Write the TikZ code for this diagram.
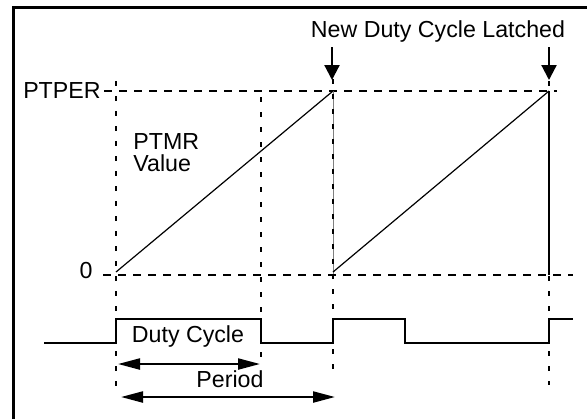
\documentclass[tikz,border=0pt]{standalone}
\usepackage{fontspec}
\setmainfont{Liberation Sans}
\usetikzlibrary{arrows,arrows.meta,positioning}
\tikzset{
  grid/.style={line width=1.2pt,dash pattern=on 4pt off 3.5pt},
  guide/.style={line width=1.2pt,dash pattern=on 2.5pt off 5pt},
  wave/.style={line width=1.2pt},
  ramp/.style={line width=0.6pt},
  latch/.style={line width=1.1pt,-{Triangle[length=7.5pt,width=7.5pt]}},
  span/.style={line width=1.1pt,{Triangle[length=11pt,width=5.5pt]}-{Triangle[length=11pt,width=5.5pt]}},
  lbl/.style={inner sep=0pt,font=\fontsize{11.6}{11}\selectfont}
}
\begin{document}
\begin{tikzpicture}[x=0.5pt,y=-0.5pt]
\useasboundingbox (0,0) rectangle (587,419);
% frame
\draw[line width=1.5pt] (13,419) -- (13,7) -- (587,7);
% levels
\node[lbl,anchor=east] (per) at (101,91) {PTPER};
\node[lbl] (zero) at (86,271) {0};
\coordinate (p0) at (104,91); \coordinate (p1) at (557,91);
\coordinate (z0) at (103,275); \coordinate (z1) at (573,275);
\draw[grid] (p0) -- (p1);
\draw[grid] (z0) -- (z1);
% timer count
\draw[gray,line width=0.5pt] (333,91) -- (333,275);
\draw[line width=1.2pt] (549,91) -- (549,275);
\draw[ramp] (116,272) -- (333,91) (333,272) -- (549,91);
\foreach \x/\a/\b in {116/81/387,261/97/358,333/79/370,549/81/385}
  \draw[guide] (\x,\a) -- (\x,\b);
\node[lbl,align=left,anchor=north west] (ptmr) at (133,133) {PTMR\\Value};
% latch points
\node[lbl] (new) at (438,31) {New Duty Cycle Latched};
\coordinate (l1) at (332,47); \coordinate (l2) at (549,47);
\draw[latch] (l1) -- (332,80);
\draw[latch] (l2) -- (549,80);
% output
\draw[wave] (44,343) -| (116,319) -| (261,343) -| (333,319) -| (405,343) -| (549,319) -- (573,319);
\node[lbl,anchor=base] (duty) at (188,342) {Duty Cycle};
\node[lbl,anchor=base] (period) at (230,387) {Period};
\draw[span] (118,364) -- (260,364);
\draw[span] (121,397) -- (335,397);
\end{tikzpicture}
\end{document}
